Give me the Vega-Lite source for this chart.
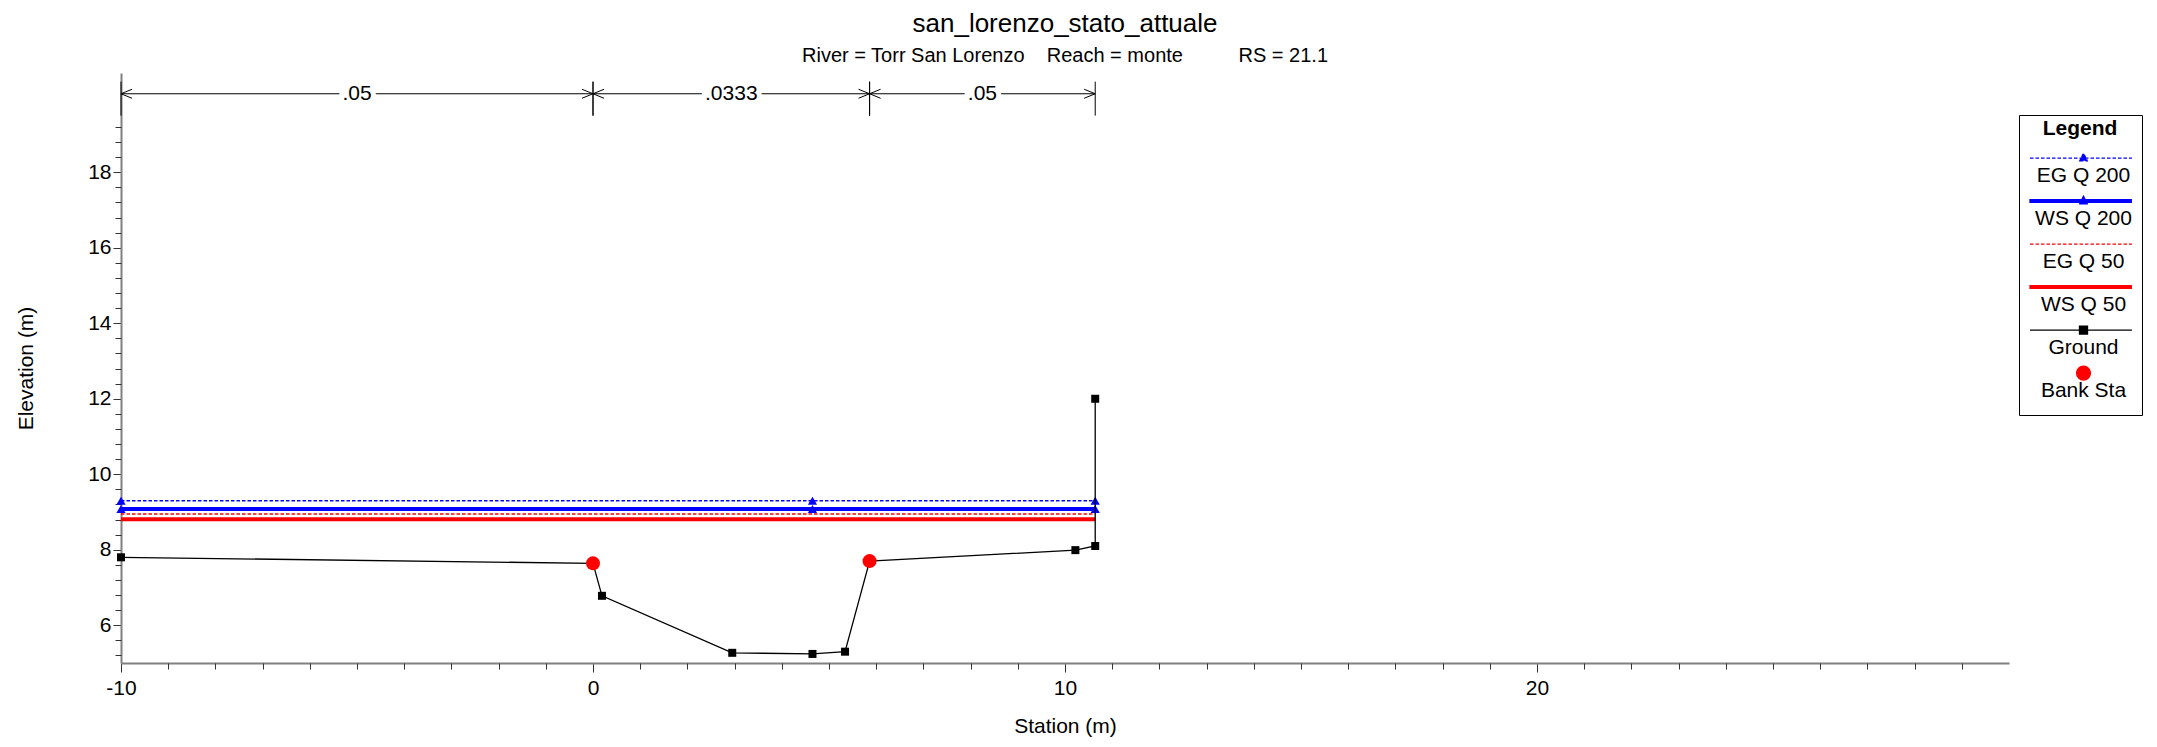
{
  "$schema": "https://vega.github.io/schema/vega-lite/v6.json",
  "width": 1888,
  "height": 590,
  "autosize": {"type": "none"},
  "padding": {"left": 121, "top": 73, "right": 148, "bottom": 84},
  "background": "white",
  "title": {
    "text": "san_lorenzo_stato_attuale",
    "subtitle": "River = Torr San Lorenzo\u00a0\u00a0\u00a0\u00a0Reach = monte\u00a0\u00a0\u00a0\u00a0\u00a0\u00a0\u00a0\u00a0\u00a0\u00a0RS = 21.1",
    "anchor": "middle",
    "font": "Liberation Sans",
    "fontSize": 26,
    "fontWeight": "normal",
    "color": "black",
    "subtitleFont": "Liberation Sans",
    "subtitleFontSize": 20,
    "subtitleColor": "black",
    "subtitlePadding": 9,
    "offset": 7
  },
  "datasets": {
    "main": [
      {"series": "EG Q 200", "station": -10, "elev": 9.30},
      {"series": "EG Q 200", "station": 4.65, "elev": 9.30},
      {"series": "EG Q 200", "station": 10.64, "elev": 9.30},
      {"series": "WS Q 200", "station": -10, "elev": 9.08},
      {"series": "WS Q 200", "station": 4.65, "elev": 9.08},
      {"series": "WS Q 200", "station": 10.64, "elev": 9.08},
      {"series": "EG Q 50", "station": -10, "elev": 8.95},
      {"series": "EG Q 50", "station": 10.64, "elev": 8.95},
      {"series": "WS Q 50", "station": -10, "elev": 8.81},
      {"series": "WS Q 50", "station": 10.64, "elev": 8.81},
      {"series": "Ground", "pt": 1, "station": -10, "elev": 7.80},
      {"series": "Ground", "pt": 2, "station": 0, "elev": 7.64},
      {"series": "Ground", "pt": 3, "station": 0.19, "elev": 6.78},
      {"series": "Ground", "pt": 4, "station": 2.95, "elev": 5.27},
      {"series": "Ground", "pt": 5, "station": 4.65, "elev": 5.24},
      {"series": "Ground", "pt": 6, "station": 5.34, "elev": 5.30},
      {"series": "Ground", "pt": 7, "station": 5.86, "elev": 7.70},
      {"series": "Ground", "pt": 8, "station": 10.22, "elev": 7.99},
      {"series": "Ground", "pt": 9, "station": 10.64, "elev": 8.10},
      {"series": "Ground", "pt": 10, "station": 10.64, "elev": 12.0},
      {"series": "Bank Sta", "station": 0, "elev": 7.64},
      {"series": "Bank Sta", "station": 5.86, "elev": 7.70}
    ],
    "nseg": [
      {"x1": -10, "x2": 0, "mid": -5, "n": ".05"},
      {"x1": 0, "x2": 5.86, "mid": 2.93, "n": ".0333"},
      {"x1": 5.86, "x2": 10.64, "mid": 8.25, "n": ".05"}
    ],
    "nbnd": [
      {"station": -10, "arrow": "left"},
      {"station": 0, "arrow": "right"},
      {"station": 0, "arrow": "left"},
      {"station": 5.86, "arrow": "right"},
      {"station": 5.86, "arrow": "left"},
      {"station": 10.64, "arrow": "right"}
    ]
  },
  "data": {"name": "main"},
  "layer": [
    {
      "transform": [{"filter": "datum.series === 'EG Q 200' || datum.series === 'EG Q 50'"}],
      "mark": {"type": "line", "strokeWidth": 1.5, "strokeDash": [3.5, 2]},
      "encoding": {
        "x": {
          "field": "station", "type": "quantitative",
          "scale": {"domain": [-10, 30], "nice": false, "zero": false},
          "axis": {"orient": "bottom", "title": "Station (m)", "values": [-10, 0, 10, 20], "labelExpr": "'' + datum.value", "tickSize": 9, "labelPadding": 5, "titlePadding": 17}
        },
        "y": {
          "field": "elev", "type": "quantitative",
          "scale": {"domain": [5, 20.63], "nice": false, "zero": false},
          "axis": {"orient": "left", "title": "Elevation (m)", "values": [6, 8, 10, 12, 14, 16, 18], "labelExpr": "'' + datum.value", "tickSize": 8, "labelPadding": 2, "titlePadding": 51}
        },
        "color": {
          "field": "series", "type": "nominal",
          "scale": {
            "domain": ["EG Q 200", "WS Q 200", "EG Q 50", "WS Q 50", "Ground", "Bank Sta"],
            "range": ["#0000ff", "#0000ff", "#ff0000", "#ff0000", "#000000", "#ff0000"]
          },
          "legend": {
            "title": "Legend",
            "orient": "none",
            "legendX": 1898,
            "legendY": 42,
            "direction": "vertical",
            "padding": 10,
            "strokeColor": "#000000",
            "fillColor": "#ffffff",
            "titleFont": "Liberation Sans",
            "titleFontSize": 21,
            "titleFontWeight": "bold",
            "titleColor": "black",
            "titleAnchor": "middle",
            "titlePadding": 1,
            "labelFont": "Liberation Sans",
            "labelFontSize": 21,
            "labelColor": "black",
            "labelAlign": "center",
            "labelBaseline": "middle",
            "labelOffset": -54.5,
            "labelLimit": 400,
            "symbolSize": 11449,
            "symbolStrokeWidth": 1.3,
            "symbolType": "M-1,-0.19H1",
            "clipHeight": 42.5,
            "rowPadding": 0,
            "encode": {
              "title": {"update": {"dy": {"value": -7}}},
              "symbols": {
                "update": {
                  "shape": [
                    {"test": "datum.value === 'EG Q 200'", "value": "M-1,-0.19H1M-0.07,-0.14L0.07,-0.14L0,-0.28Z"},
                    {"test": "datum.value === 'WS Q 200'", "value": "M-1,-0.215H1V-0.165H-1ZM0.07,-0.14L-0.07,-0.14L0,-0.28Z"},
                    {"test": "datum.value === 'WS Q 50'", "value": "M-1,-0.215H1V-0.165H-1Z"},
                    {"test": "datum.value === 'Ground'", "value": "M-1,-0.19H1M-0.075,-0.265H0.075V-0.115H-0.075Z"},
                    {"test": "datum.value === 'Bank Sta'", "value": "M0.13,-0.19C0.13,-0.118 0.0718,-0.06 0,-0.06C-0.0718,-0.06 -0.13,-0.118 -0.13,-0.19C-0.13,-0.262 -0.0718,-0.32 0,-0.32C0.0718,-0.32 0.13,-0.262 0.13,-0.19Z"},
                    {"value": "M-1,-0.19H1"}
                  ],
                  "fill": [
                    {"test": "datum.value === 'EG Q 200' || datum.value === 'WS Q 200'", "value": "#0000ff"},
                    {"test": "datum.value === 'Ground'", "value": "#000000"},
                    {"value": "#ff0000"}
                  ],
                  "stroke": [
                    {"test": "datum.value === 'EG Q 200' || datum.value === 'WS Q 200'", "value": "#0000ff"},
                    {"test": "datum.value === 'Ground'", "value": "#000000"},
                    {"value": "#ff0000"}
                  ],
                  "strokeDash": [
                    {"test": "datum.value === 'EG Q 200' || datum.value === 'EG Q 50'", "value": [3.5, 2]},
                    {"value": []}
                  ],
                  "opacity": {"value": 1}
                }
              },
              "labels": {"update": {"dy": {"value": 8}}}
            }
          }
        }
      }
    },
    {
      "transform": [{"filter": "datum.series === 'WS Q 200' || datum.series === 'WS Q 50'"}],
      "mark": {"type": "line", "strokeWidth": 4},
      "encoding": {
        "x": {"field": "station", "type": "quantitative",
          "axis": {"orient": "bottom", "title": null, "labels": false, "domain": false, "tickSize": 6,
            "values": [-9, -8, -7, -6, -5, -4, -3, -2, -1, 1, 2, 3, 4, 5, 6, 7, 8, 9, 11, 12, 13, 14, 15, 16, 17, 18, 19, 21, 22, 23, 24, 25, 26, 27, 28, 29]}},
        "y": {"field": "elev", "type": "quantitative",
          "axis": {"orient": "left", "title": null, "labels": false, "domain": false, "tickSize": 6,
            "values": [5.2, 5.6, 6.4, 6.8, 7.2, 7.6, 8.4, 8.8, 9.2, 9.6, 10.4, 10.8, 11.2, 11.6, 12.4, 12.8, 13.2, 13.6, 14.4, 14.8, 15.2, 15.6, 16.4, 16.8, 17.2, 17.6, 18.4, 18.8, 19.2]}},
        "color": {"field": "series", "type": "nominal", "legend": null}
      }
    },
    {
      "transform": [{"filter": "datum.series === 'EG Q 200' || datum.series === 'WS Q 200'"}],
      "mark": {"type": "point", "shape": "triangle-up", "filled": true, "size": 85, "opacity": 1},
      "encoding": {
        "x": {"field": "station", "type": "quantitative", "axis": null},
        "y": {"field": "elev", "type": "quantitative", "axis": null},
        "color": {"field": "series", "type": "nominal", "legend": null}
      }
    },
    {
      "transform": [{"filter": "datum.series === 'Ground'"}],
      "mark": {"type": "line", "strokeWidth": 1.3},
      "encoding": {
        "x": {"field": "station", "type": "quantitative", "axis": null},
        "y": {"field": "elev", "type": "quantitative", "axis": null},
        "order": {"field": "pt", "type": "quantitative"},
        "color": {"field": "series", "type": "nominal", "legend": null}
      }
    },
    {
      "transform": [{"filter": "datum.series === 'Ground'"}],
      "mark": {"type": "point", "shape": "square", "filled": true, "size": 64, "opacity": 1},
      "encoding": {
        "x": {"field": "station", "type": "quantitative", "axis": null},
        "y": {"field": "elev", "type": "quantitative", "axis": null},
        "color": {"field": "series", "type": "nominal", "legend": null}
      }
    },
    {
      "transform": [{"filter": "datum.series === 'Bank Sta'"}],
      "mark": {"type": "point", "shape": "circle", "filled": true, "size": 196, "opacity": 1},
      "encoding": {
        "x": {"field": "station", "type": "quantitative", "axis": null},
        "y": {"field": "elev", "type": "quantitative", "axis": null},
        "color": {"field": "series", "type": "nominal", "legend": null}
      }
    },
    {
      "data": {"name": "nseg"},
      "mark": {"type": "rule", "color": "black", "strokeWidth": 1},
      "encoding": {
        "x": {"field": "x1", "type": "quantitative", "axis": null},
        "x2": {"field": "x2"},
        "y": {"datum": 20.08, "type": "quantitative", "axis": null}
      }
    },
    {
      "data": {"name": "nbnd"},
      "mark": {"type": "rule", "color": "black", "strokeWidth": 1},
      "encoding": {
        "x": {"field": "station", "type": "quantitative", "axis": null},
        "y": {"datum": 19.5, "type": "quantitative", "axis": null},
        "y2": {"datum": 20.4}
      }
    },
    {
      "data": {"name": "nbnd"},
      "transform": [{"filter": "datum.arrow === 'left'"}],
      "mark": {"type": "point", "shape": "M2.2,-0.9L0,0L2.2,0.9", "filled": false, "stroke": "black", "strokeWidth": 1, "size": 100, "opacity": 1},
      "encoding": {
        "x": {"field": "station", "type": "quantitative", "axis": null},
        "y": {"datum": 20.08, "type": "quantitative", "axis": null}
      }
    },
    {
      "data": {"name": "nbnd"},
      "transform": [{"filter": "datum.arrow === 'right'"}],
      "mark": {"type": "point", "shape": "M-2.2,-0.9L0,0L-2.2,0.9", "filled": false, "stroke": "black", "strokeWidth": 1, "size": 100, "opacity": 1},
      "encoding": {
        "x": {"field": "station", "type": "quantitative", "axis": null},
        "y": {"datum": 20.08, "type": "quantitative", "axis": null}
      }
    },
    {
      "data": {"name": "nseg"},
      "mark": {"type": "text", "font": "Liberation Sans", "fontSize": 21, "color": "white", "stroke": "white", "strokeWidth": 10, "baseline": "middle", "align": "center"},
      "encoding": {
        "x": {"field": "mid", "type": "quantitative", "axis": null},
        "y": {"datum": 20.08, "type": "quantitative", "axis": null},
        "text": {"field": "n"}
      }
    },
    {
      "data": {"name": "nseg"},
      "mark": {"type": "text", "font": "Liberation Sans", "fontSize": 21, "color": "black", "baseline": "middle", "align": "center"},
      "encoding": {
        "x": {"field": "mid", "type": "quantitative", "axis": null},
        "y": {"datum": 20.08, "type": "quantitative", "axis": null},
        "text": {"field": "n"}
      }
    }
  ],
  "resolve": {"axis": {"x": "independent", "y": "independent"}},
  "config": {
    "view": {"stroke": null},
    "font": "Liberation Sans",
    "axis": {
      "grid": false,
      "labelFont": "Liberation Sans",
      "titleFont": "Liberation Sans",
      "labelFontSize": 21,
      "titleFontSize": 21,
      "titleFontWeight": "normal",
      "labelColor": "black",
      "titleColor": "black",
      "domainColor": "#808080",
      "domainWidth": 2,
      "tickColor": "#333333",
      "tickWidth": 1,
      "labelOverlap": false,
      "labelFlush": false
    }
  }
}
